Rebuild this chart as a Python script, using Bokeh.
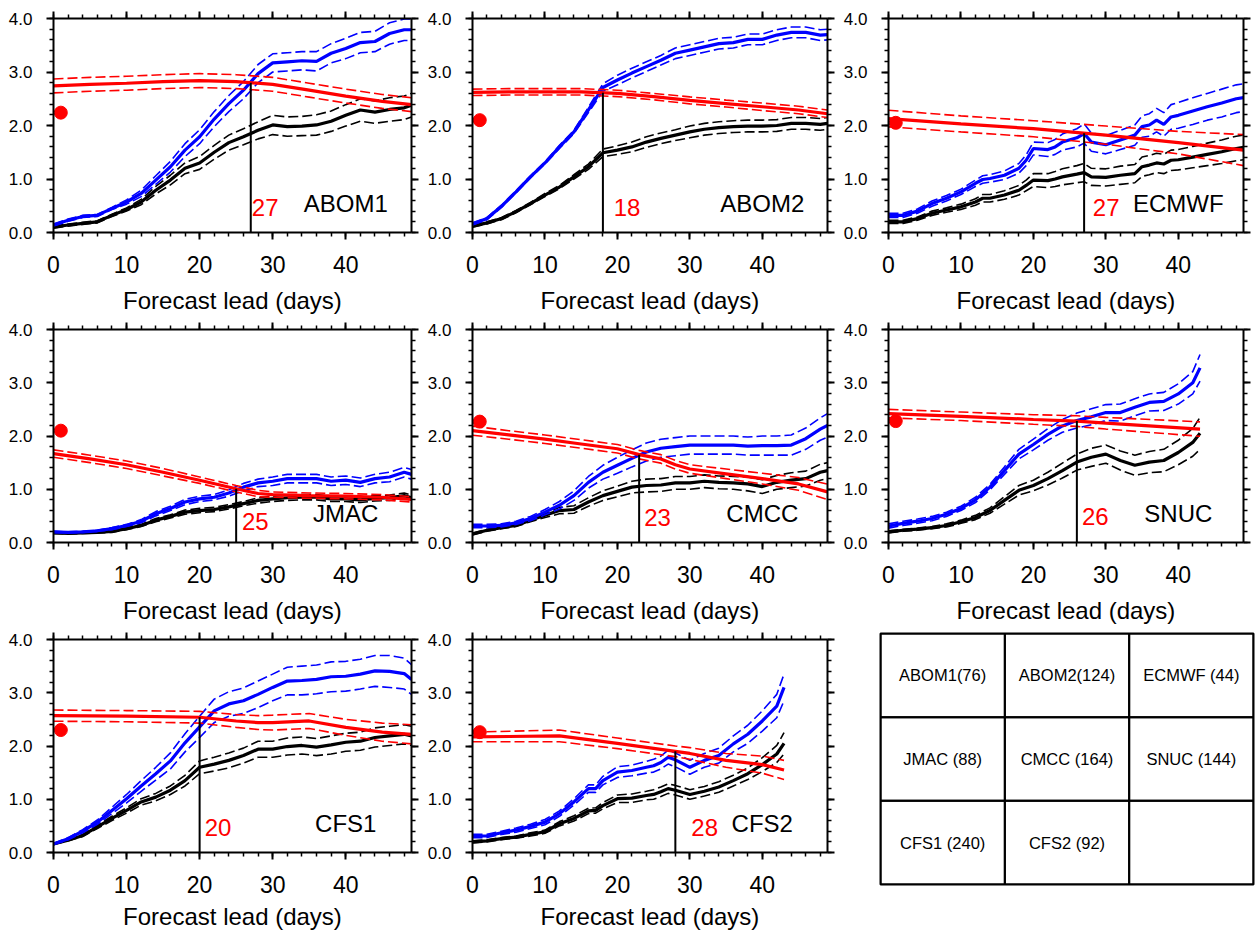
import numpy as np
from bokeh.plotting import figure
from bokeh.layouts import row, column
from bokeh.models import Range1d, FixedTicker, LinearAxis, PrintfTickFormatter, CustomLabelingPolicy
from bokeh.core.properties import value
from bokeh.embed import file_html
from bokeh.resources import INLINE

# ---------------- data ----------------
G50 = [0, 2, 4, 6, 8, 10, 12, 14, 16, 18, 20, 22, 24, 26, 28, 30, 32, 34, 36, 38, 40, 42, 44, 46, 48, 49]
G43 = [0, 2, 4, 6, 8, 10, 12, 14, 16, 18, 20, 22, 24, 26, 28, 30, 32, 34, 36, 38, 40, 42, 43]

ABOM1_x = G50
ABOM1_blue = [0.14, 0.23, 0.30, 0.32, 0.45, 0.57, 0.73, 0.98, 1.23, 1.54, 1.79, 2.12, 2.41, 2.66, 2.97, 3.17, 3.19, 3.21, 3.20, 3.35, 3.44, 3.55, 3.57, 3.72, 3.79, 3.79]
ABOM1_blue_sp = [0.02, 0.02, 0.02, 0.02, 0.02, 0.04, 0.06, 0.08, 0.10, 0.12, 0.13, 0.14, 0.15, 0.16, 0.17, 0.17, 0.17, 0.17, 0.18, 0.18, 0.19, 0.19, 0.19, 0.20, 0.20, 0.20]
ABOM1_black = [0.10, 0.14, 0.17, 0.20, 0.32, 0.43, 0.57, 0.79, 0.98, 1.20, 1.30, 1.50, 1.68, 1.79, 1.91, 2.01, 1.98, 1.99, 2.01, 2.08, 2.19, 2.29, 2.25, 2.30, 2.33, 2.38]
ABOM1_black_sp = [0.02, 0.02, 0.02, 0.02, 0.02, 0.03, 0.05, 0.07, 0.09, 0.10, 0.12, 0.13, 0.14, 0.15, 0.16, 0.18, 0.18, 0.18, 0.19, 0.19, 0.20, 0.21, 0.21, 0.22, 0.22, 0.22]
ABOM1_red_x = [0, 5, 10, 15, 20, 25, 30, 35, 40, 45, 49]
ABOM1_red = [2.74, 2.77, 2.79, 2.82, 2.84, 2.82, 2.77, 2.66, 2.55, 2.45, 2.39]
ABOM1_red_sp = [0.13, 0.13, 0.13, 0.13, 0.13, 0.13, 0.13, 0.13, 0.13, 0.13, 0.13]

ABOM2_x = G50
ABOM2_blue = [0.16, 0.26, 0.49, 0.76, 1.04, 1.30, 1.60, 1.88, 2.29, 2.71, 2.85, 2.98, 3.10, 3.22, 3.35, 3.41, 3.47, 3.53, 3.55, 3.61, 3.61, 3.69, 3.74, 3.74, 3.69, 3.70]
ABOM2_blue_sp = [0.02, 0.02, 0.02, 0.02, 0.02, 0.02, 0.03, 0.03, 0.05, 0.07, 0.09, 0.09, 0.09, 0.09, 0.10, 0.10, 0.10, 0.10, 0.10, 0.10, 0.10, 0.10, 0.10, 0.10, 0.10, 0.10]
ABOM2_black = [0.12, 0.18, 0.26, 0.39, 0.54, 0.70, 0.85, 1.04, 1.23, 1.49, 1.54, 1.60, 1.69, 1.76, 1.82, 1.88, 1.93, 1.96, 1.98, 1.99, 1.99, 2.00, 2.04, 2.04, 2.02, 2.04]
ABOM2_black_sp = [0.02, 0.02, 0.02, 0.02, 0.02, 0.03, 0.03, 0.04, 0.05, 0.07, 0.08, 0.09, 0.10, 0.10, 0.10, 0.11, 0.11, 0.11, 0.11, 0.11, 0.11, 0.11, 0.11, 0.11, 0.11, 0.11]
ABOM2_red_x = [0, 5, 10, 15, 20, 25, 30, 35, 40, 45, 49]
ABOM2_red = [2.62, 2.63, 2.63, 2.63, 2.60, 2.54, 2.47, 2.41, 2.35, 2.29, 2.22]
ABOM2_red_sp = [0.06, 0.06, 0.06, 0.06, 0.06, 0.06, 0.065, 0.065, 0.07, 0.07, 0.07]

ECMWF_x = [0, 2, 4, 6, 8, 10, 12, 13, 14, 16, 18, 19, 20, 22, 23, 24, 26, 27, 28, 30, 32, 34, 35, 36, 37, 38, 39, 40, 42, 44, 46, 48, 49]
ECMWF_blue = [0.32, 0.32, 0.40, 0.54, 0.64, 0.76, 0.92, 0.99, 1.01, 1.07, 1.20, 1.35, 1.57, 1.55, 1.60, 1.69, 1.77, 1.85, 1.69, 1.64, 1.73, 1.82, 1.98, 2.01, 2.10, 2.02, 2.16, 2.19, 2.27, 2.35, 2.42, 2.50, 2.52]
ECMWF_blue_sp = [0.04, 0.04, 0.04, 0.05, 0.05, 0.05, 0.06, 0.07, 0.07, 0.08, 0.09, 0.10, 0.12, 0.13, 0.14, 0.15, 0.17, 0.18, 0.17, 0.17, 0.18, 0.19, 0.20, 0.21, 0.22, 0.22, 0.23, 0.24, 0.25, 0.25, 0.26, 0.26, 0.26]
ECMWF_black = [0.20, 0.20, 0.26, 0.36, 0.42, 0.48, 0.57, 0.64, 0.64, 0.70, 0.79, 0.88, 0.98, 0.97, 1.00, 1.04, 1.09, 1.12, 1.04, 1.03, 1.07, 1.10, 1.23, 1.26, 1.30, 1.28, 1.35, 1.36, 1.41, 1.46, 1.51, 1.57, 1.59]
ECMWF_black_sp = [0.03, 0.03, 0.03, 0.04, 0.04, 0.05, 0.06, 0.07, 0.07, 0.08, 0.09, 0.10, 0.12, 0.13, 0.14, 0.15, 0.16, 0.17, 0.16, 0.16, 0.17, 0.17, 0.18, 0.18, 0.18, 0.18, 0.19, 0.19, 0.20, 0.21, 0.22, 0.23, 0.23]
ECMWF_red_x = [0, 10, 20, 30, 40, 49]
ECMWF_red = [2.13, 2.03, 1.94, 1.82, 1.68, 1.54]
ECMWF_red_sp = [0.155, 0.15, 0.15, 0.17, 0.21, 0.29]

JMAC_x = G50
JMAC_blue = [0.20, 0.19, 0.20, 0.22, 0.26, 0.32, 0.40, 0.54, 0.64, 0.76, 0.82, 0.85, 0.93, 1.04, 1.12, 1.15, 1.20, 1.20, 1.20, 1.15, 1.17, 1.13, 1.20, 1.23, 1.32, 1.28]
JMAC_blue_sp = [0.01, 0.01, 0.01, 0.01, 0.02, 0.02, 0.03, 0.04, 0.04, 0.05, 0.05, 0.05, 0.06, 0.07, 0.07, 0.08, 0.08, 0.08, 0.08, 0.08, 0.08, 0.08, 0.08, 0.09, 0.09, 0.09]
JMAC_black = [0.18, 0.17, 0.18, 0.19, 0.21, 0.26, 0.32, 0.42, 0.49, 0.57, 0.60, 0.62, 0.67, 0.73, 0.79, 0.82, 0.84, 0.85, 0.85, 0.82, 0.82, 0.80, 0.83, 0.84, 0.88, 0.84]
JMAC_black_sp = [0.01, 0.01, 0.01, 0.01, 0.02, 0.02, 0.02, 0.03, 0.03, 0.04, 0.04, 0.04, 0.04, 0.04, 0.05, 0.05, 0.05, 0.05, 0.05, 0.05, 0.05, 0.05, 0.05, 0.05, 0.05, 0.05]
JMAC_red_x = [0, 5, 10, 15, 20, 25, 28, 30, 35, 40, 45, 49]
JMAC_red = [1.67, 1.57, 1.46, 1.32, 1.17, 1.01, 0.92, 0.90, 0.88, 0.87, 0.85, 0.81]
JMAC_red_sp = [0.07, 0.07, 0.07, 0.07, 0.06, 0.06, 0.06, 0.05, 0.05, 0.05, 0.05, 0.05]

CMCC_x = G50
CMCC_blue = [0.31, 0.31, 0.32, 0.37, 0.45, 0.57, 0.70, 0.88, 1.13, 1.32, 1.45, 1.58, 1.70, 1.77, 1.80, 1.83, 1.83, 1.83, 1.83, 1.81, 1.82, 1.82, 1.83, 1.95, 2.13, 2.20]
CMCC_blue_sp = [0.03, 0.03, 0.03, 0.03, 0.04, 0.05, 0.07, 0.09, 0.11, 0.13, 0.15, 0.16, 0.17, 0.17, 0.17, 0.17, 0.17, 0.17, 0.17, 0.17, 0.18, 0.18, 0.19, 0.20, 0.21, 0.22]
CMCC_black = [0.16, 0.23, 0.28, 0.32, 0.42, 0.51, 0.60, 0.62, 0.76, 0.88, 0.96, 1.04, 1.07, 1.08, 1.12, 1.12, 1.15, 1.13, 1.12, 1.10, 1.05, 1.13, 1.17, 1.20, 1.32, 1.35]
CMCC_black_sp = [0.02, 0.02, 0.02, 0.02, 0.03, 0.04, 0.06, 0.07, 0.08, 0.09, 0.10, 0.11, 0.12, 0.12, 0.12, 0.12, 0.12, 0.12, 0.12, 0.13, 0.13, 0.13, 0.14, 0.14, 0.15, 0.15]
CMCC_red_x = [0, 5, 10, 15, 20, 23, 26, 28, 30, 35, 40, 45, 49]
CMCC_red = [2.10, 2.02, 1.94, 1.85, 1.76, 1.65, 1.57, 1.46, 1.38, 1.29, 1.20, 1.10, 0.95]
CMCC_red_sp = [0.085, 0.08, 0.08, 0.08, 0.08, 0.08, 0.08, 0.08, 0.08, 0.09, 0.10, 0.12, 0.145]

SNUC_x = G43
SNUC_blue = [0.31, 0.36, 0.40, 0.45, 0.53, 0.64, 0.80, 1.04, 1.35, 1.66, 1.84, 2.03, 2.19, 2.29, 2.36, 2.44, 2.44, 2.54, 2.63, 2.65, 2.79, 3.00, 3.28]
SNUC_blue_sp = [0.04, 0.04, 0.04, 0.04, 0.04, 0.04, 0.05, 0.05, 0.07, 0.09, 0.10, 0.11, 0.12, 0.14, 0.15, 0.15, 0.16, 0.16, 0.16, 0.17, 0.19, 0.21, 0.25]
SNUC_black = [0.20, 0.23, 0.25, 0.28, 0.32, 0.39, 0.47, 0.60, 0.79, 0.98, 1.07, 1.20, 1.35, 1.51, 1.60, 1.66, 1.54, 1.45, 1.51, 1.54, 1.69, 1.88, 2.05]
SNUC_black_sp = [0.02, 0.02, 0.02, 0.02, 0.03, 0.03, 0.04, 0.05, 0.07, 0.09, 0.10, 0.12, 0.14, 0.15, 0.17, 0.17, 0.18, 0.19, 0.20, 0.21, 0.23, 0.26, 0.30]
SNUC_red_x = [0, 10, 20, 26, 30, 43]
SNUC_red = [2.42, 2.37, 2.31, 2.28, 2.24, 2.13]
SNUC_red_sp = [0.08, 0.08, 0.09, 0.10, 0.11, 0.135]

CFS1_x = G50
CFS1_blue = [0.16, 0.26, 0.40, 0.57, 0.79, 1.01, 1.25, 1.48, 1.72, 2.06, 2.36, 2.66, 2.79, 2.85, 2.97, 3.10, 3.22, 3.23, 3.25, 3.30, 3.31, 3.35, 3.41, 3.40, 3.36, 3.25]
CFS1_blue_sp = [0.01, 0.02, 0.03, 0.04, 0.06, 0.08, 0.10, 0.12, 0.15, 0.17, 0.20, 0.22, 0.23, 0.24, 0.25, 0.25, 0.26, 0.27, 0.27, 0.28, 0.28, 0.28, 0.29, 0.30, 0.29, 0.28]
CFS1_black = [0.16, 0.23, 0.32, 0.48, 0.64, 0.79, 0.95, 1.04, 1.17, 1.35, 1.60, 1.66, 1.73, 1.82, 1.94, 1.94, 1.99, 2.01, 1.98, 2.02, 2.07, 2.09, 2.16, 2.19, 2.22, 2.19]
CFS1_black_sp = [0.01, 0.01, 0.02, 0.03, 0.04, 0.05, 0.06, 0.07, 0.08, 0.10, 0.12, 0.13, 0.14, 0.14, 0.15, 0.15, 0.16, 0.16, 0.16, 0.17, 0.17, 0.17, 0.18, 0.18, 0.18, 0.18]
CFS1_red_x = [0, 10, 20, 25, 28, 30, 35, 40, 45, 49]
CFS1_red = [2.57, 2.56, 2.54, 2.47, 2.44, 2.44, 2.47, 2.35, 2.26, 2.22]
CFS1_red_sp = [0.105, 0.105, 0.11, 0.12, 0.13, 0.14, 0.14, 0.15, 0.17, 0.18]

CFS2_x = [0, 2, 4, 6, 8, 10, 12, 14, 16, 17, 18, 20, 22, 24, 25, 26, 27, 28, 30, 32, 34, 36, 38, 40, 42, 43]
CFS2_blue = [0.31, 0.31, 0.37, 0.42, 0.49, 0.57, 0.73, 0.95, 1.20, 1.20, 1.35, 1.51, 1.54, 1.60, 1.63, 1.69, 1.79, 1.74, 1.60, 1.73, 1.82, 2.04, 2.22, 2.47, 2.75, 3.10]
CFS2_blue_sp = [0.03, 0.03, 0.03, 0.04, 0.04, 0.05, 0.05, 0.06, 0.07, 0.07, 0.08, 0.10, 0.10, 0.11, 0.12, 0.12, 0.13, 0.13, 0.13, 0.13, 0.14, 0.15, 0.17, 0.19, 0.22, 0.25]
CFS2_black = [0.20, 0.22, 0.26, 0.29, 0.34, 0.39, 0.54, 0.64, 0.78, 0.79, 0.88, 1.01, 1.02, 1.07, 1.09, 1.14, 1.20, 1.17, 1.09, 1.15, 1.23, 1.35, 1.48, 1.65, 1.85, 2.05]
CFS2_black_sp = [0.02, 0.02, 0.02, 0.02, 0.03, 0.03, 0.04, 0.05, 0.05, 0.05, 0.06, 0.07, 0.08, 0.08, 0.09, 0.09, 0.09, 0.09, 0.09, 0.09, 0.10, 0.10, 0.11, 0.13, 0.16, 0.20]
CFS2_red_x = [0, 12, 20, 28, 30, 35, 40, 43]
CFS2_red = [2.17, 2.19, 2.05, 1.90, 1.86, 1.73, 1.65, 1.55]
CFS2_red_sp = [0.09, 0.11, 0.10, 0.10, 0.11, 0.13, 0.16, 0.18]

models = ["ABOM1", "ABOM2", "ECMWF", "JMAC", "CMCC", "SNUC", "CFS1", "CFS2"]
cross_day = [27, 18, 27, 25, 23, 26, 20, 28]
obs_day = [1, 1, 1, 1, 1, 1, 1, 1]
obs_value = [2.24, 2.10, 2.05, 2.10, 2.27, 2.28, 2.30, 2.26]
table_labels = ["ABOM1(76)", "ABOM2(124)", "ECMWF (44)", "JMAC (88)", "CMCC (164)",
                "SNUC (144)", "CFS1 (240)", "CFS2 (92)", ""]

series = {
    "ABOM1": (ABOM1_x, ABOM1_blue, ABOM1_blue_sp, ABOM1_black, ABOM1_black_sp, ABOM1_red_x, ABOM1_red, ABOM1_red_sp),
    "ABOM2": (ABOM2_x, ABOM2_blue, ABOM2_blue_sp, ABOM2_black, ABOM2_black_sp, ABOM2_red_x, ABOM2_red, ABOM2_red_sp),
    "ECMWF": (ECMWF_x, ECMWF_blue, ECMWF_blue_sp, ECMWF_black, ECMWF_black_sp, ECMWF_red_x, ECMWF_red, ECMWF_red_sp),
    "JMAC": (JMAC_x, JMAC_blue, JMAC_blue_sp, JMAC_black, JMAC_black_sp, JMAC_red_x, JMAC_red, JMAC_red_sp),
    "CMCC": (CMCC_x, CMCC_blue, CMCC_blue_sp, CMCC_black, CMCC_black_sp, CMCC_red_x, CMCC_red, CMCC_red_sp),
    "SNUC": (SNUC_x, SNUC_blue, SNUC_blue_sp, SNUC_black, SNUC_black_sp, SNUC_red_x, SNUC_red, SNUC_red_sp),
    "CFS1": (CFS1_x, CFS1_blue, CFS1_blue_sp, CFS1_black, CFS1_black_sp, CFS1_red_x, CFS1_red, CFS1_red_sp),
    "CFS2": (CFS2_x, CFS2_blue, CFS2_blue_sp, CFS2_black, CFS2_black_sp, CFS2_red_x, CFS2_red, CFS2_red_sp),
}

# ---------------- styles / layout ----------------
FONT = "Liberation Sans"
num_dx = [0.15, 1.5, 1.2, 0.8, 0.7, 0.7, 0.7, 2.2]      # red label offset from the vertical line (days)
num_y = [0.47, 0.46, 0.46, 0.39, 0.47, 0.49, 0.47, 0.47]
col_w = [424, 416, 415]
col_left = [53, 45, 45]
row_h = [318, 310, 305]
row_top = [18, 10, 10]
xlabel_standoff = [11, 11, 7]
FRAME_W, FRAME_H = 358, 214


def style_axis(ax, labels=True, size="23px"):
    ax.axis_line_width = 2
    ax.axis_line_color = "black"
    ax.major_tick_line_color = "black"
    ax.minor_tick_line_color = "black"
    ax.major_tick_line_width = 2
    ax.minor_tick_line_width = 1.5
    ax.major_tick_out = 7
    ax.major_tick_in = 0
    ax.minor_tick_out = 4
    ax.minor_tick_in = 0
    if labels:
        ax.major_label_text_font = FONT
        ax.major_label_text_font_size = size
        ax.major_label_text_color = "black"
    else:
        ax.major_label_policy = CustomLabelingPolicy(code="return new Set()")
        ax.major_label_text_font_size = "1px"
        ax.major_label_standoff = 0


def xticker():
    return FixedTicker(ticks=[0, 10, 20, 30, 40], minor_ticks=list(range(0, 50, 2)))


def yticker():
    return FixedTicker(ticks=[0, 1, 2, 3, 4], minor_ticks=[i * 0.2 for i in range(21)])


def band(p, x, c, sp, color):
    c = np.array(c)
    sp = np.array(sp)
    p.line(x, c + sp, line_color=color, line_width=1.6, line_dash="10 4")
    p.line(x, c - sp, line_color=color, line_width=1.6, line_dash="10 4")
    p.line(x, c, line_color=color, line_width=3.2)


def panel(i):
    name = models[i]
    r, cidx = divmod(i, 3)
    w = col_w[cidx]
    h = row_h[r]
    p = figure(width=w, height=h, x_range=Range1d(0, 49), y_range=Range1d(0, 4),
               output_backend="svg", toolbar_location=None, frame_align=False,
               min_border_left=col_left[cidx], min_border_right=w - col_left[cidx] - FRAME_W,
               min_border_top=row_top[r], min_border_bottom=h - row_top[r] - FRAME_H)
    p.xgrid.visible = False
    p.ygrid.visible = False
    p.outline_line_color = None

    p.xaxis.ticker = xticker()
    p.yaxis.ticker = yticker()
    p.yaxis.formatter = PrintfTickFormatter(format="%.1f")
    style_axis(p.xaxis[0], True, "23px")
    style_axis(p.yaxis[0], True, "17px")
    p.xaxis[0].major_label_standoff = 16
    p.yaxis[0].major_label_standoff = 14
    p.xaxis.axis_label = "Forecast lead (days)"
    p.xaxis.axis_label_text_font = FONT
    p.xaxis.axis_label_text_font_size = "24px"
    p.xaxis.axis_label_text_font_style = "normal"
    p.xaxis.axis_label_text_color = "black"
    p.xaxis.axis_label_standoff = xlabel_standoff[r]

    top = LinearAxis(ticker=xticker())
    style_axis(top, False)
    p.add_layout(top, "above")
    right = LinearAxis(ticker=yticker())
    style_axis(right, False)
    p.add_layout(right, "right")

    x, blue, blue_sp, black, black_sp, rx, red, red_sp = series[name]
    band(p, x, black, black_sp, "black")
    band(p, x, blue, blue_sp, "blue")
    band(p, rx, red, red_sp, "red")

    day = cross_day[i]
    top_y = float(np.interp(day, rx, red))
    p.segment(x0=[day], y0=[0], x1=[day], y1=[top_y], line_color="black", line_width=2)
    p.text(x=[day + num_dx[i]], y=[num_y[i]], text=[str(day)], text_color="red",
           text_font=value(FONT), text_font_size="24px", text_align="left", text_baseline="middle")
    p.text(x=[40], y=[0.55], text=[name], text_color="black",
           text_font=value(FONT), text_font_size="24px", text_align="center", text_baseline="middle")
    p.scatter([obs_day[i]], [obs_value[i]], size=13, color="red")
    return p


panels = [panel(i) for i in range(8)]

# table cell (ensemble sizes)
t = figure(width=415, height=305, x_range=Range1d(0, 3), y_range=Range1d(3, 0),
           output_backend="svg", toolbar_location=None, frame_align=False,
           x_axis_location=None, y_axis_location=None,
           min_border_left=40, min_border_right=2, min_border_top=5, min_border_bottom=49)
t.xgrid.visible = False
t.ygrid.visible = False
t.outline_line_color = "black"
t.outline_line_width = 2
cx = [k % 3 + 0.5 for k in range(len(table_labels))]
cy = [k // 3 + 0.5 for k in range(len(table_labels))]
t.rect(cx, cy, width=1, height=1, fill_color=None, line_color="black", line_width=2)
t.text(cx, cy, text=table_labels, text_font=value(FONT), text_font_size="16.5px",
       text_align="center", text_baseline="middle", text_color="black")

layout = column(row(panels[0], panels[1], panels[2]),
                row(panels[3], panels[4], panels[5]),
                row(panels[6], panels[7], t))

open("out.html", "w").write(file_html(layout, INLINE))
